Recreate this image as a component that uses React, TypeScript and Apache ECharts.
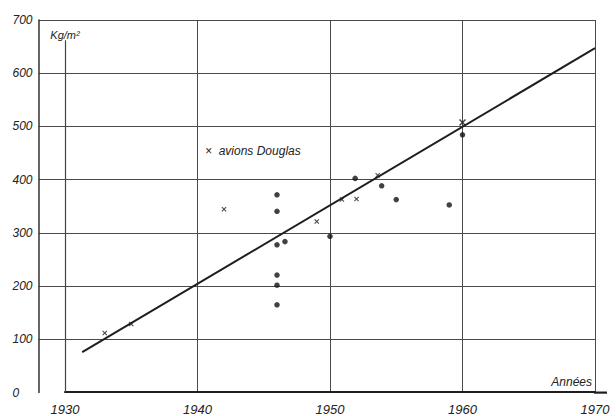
import React, { useEffect, useRef } from "react";
import * as echarts from "echarts";

// Douglas aircraft (crosses)
const douglasYears = [1933, 1935, 1942, 1949, 1950.9, 1952, 1953.6, 1960];
const douglasValues = [111, 128, 344, 321, 362, 363, 408, 507];
// Other aircraft (dots)
const otherYears = [1946, 1946, 1946, 1946.6, 1950, 1946, 1946, 1946, 1951.9, 1953.9, 1955, 1959, 1960];
const otherValues = [371, 340, 277, 283, 293, 220, 201, 164, 402, 388, 362, 352, 484];
// Trend line
const trendYears = [1931.3, 1970];
const trendValues = [75, 647];
// Axis ticks
const yearTicks = [1930, 1940, 1950, 1960, 1970];
const valueTicks = [0, 100, 200, 300, 400, 500, 600, 700];

const FONT = "'Liberation Sans', 'DejaVu Sans', sans-serif";
const INK = "#1e1e1e";
const GRID = "#4a4a4a";

const crossPath =
  "path://M0,1.5L1.5,0L5,3.5L8.5,0L10,1.5L6.5,5L10,8.5L8.5,10L5,6.5L1.5,10L0,8.5L3.5,5Z";

export default function App() {
  const ref = useRef<HTMLDivElement>(null);

  useEffect(() => {
    if (!ref.current) return;
    const chart = echarts.init(ref.current, null, { renderer: "svg" });
    const top = 20;
    const bottom = 23.4;
    const option: any = {
      animation: false,
      backgroundColor: "#ffffff",
      grid: [
        { left: 38.5, right: 21, top, bottom },
        { left: 65, right: 21, top, bottom },
      ],
      xAxis: [
        { gridIndex: 0, type: "value", min: 0, max: 1, show: false },
        {
          gridIndex: 1,
          type: "value",
          min: yearTicks[0],
          max: yearTicks[yearTicks.length - 1],
          interval: 10,
          axisLine: { show: true, lineStyle: { color: INK, width: 2.2 } },
          axisTick: { show: false },
          axisLabel: {
            margin: 11,
            color: "#222",
            fontFamily: FONT,
            fontStyle: "italic",
            fontSize: 13,
            formatter: (v: number) => (yearTicks.includes(v) ? String(v) : ""),
          },
          splitLine: {
            show: true,
            showMinLine: false,
            lineStyle: { color: GRID, width: 1 },
          },
        },
      ],
      yAxis: [
        {
          gridIndex: 0,
          type: "value",
          min: valueTicks[0],
          max: valueTicks[valueTicks.length - 1],
          interval: 100,
          axisLine: { show: true, lineStyle: { color: "#333", width: 1.5 } },
          axisTick: { show: false },
          axisLabel: {
            align: "left",
            margin: 26,
            padding: [0, 0, 8, 0],
            color: "#222",
            fontFamily: FONT,
            fontStyle: "italic",
            fontSize: 12,
          },
          splitLine: {
            show: true,
            showMinLine: false,
            lineStyle: { color: GRID, width: 1 },
          },
        },
        {
          gridIndex: 1,
          type: "value",
          min: valueTicks[0],
          max: valueTicks[valueTicks.length - 1],
          interval: 100,
          axisLine: { show: false },
          axisTick: { show: false },
          axisLabel: { show: false },
          splitLine: { show: false },
          name: "Kg/m²",
          nameLocation: "end",
          nameGap: -20,
          nameTextStyle: {
            align: "center",
            verticalAlign: "bottom",
            color: "#222",
            fontFamily: FONT,
            fontStyle: "italic",
            fontSize: 11,
          },
        },
      ],
      series: [
        {
          type: "line",
          xAxisIndex: 1,
          yAxisIndex: 1,
          data: trendYears.map((y, i) => [y, trendValues[i]]),
          showSymbol: false,
          symbol: "none",
          lineStyle: { color: INK, width: 2 },
          silent: true,
          markLine: {
            silent: true,
            symbol: "none",
            label: { show: false },
            lineStyle: { color: "#444", width: 1.2, type: "solid" },
            data: [[{ coord: [yearTicks[0], 0] }, { coord: [yearTicks[0], 662] }]],
          },
        },
        {
          type: "scatter",
          xAxisIndex: 1,
          yAxisIndex: 1,
          data: otherYears.map((y, i) => [y, otherValues[i]]),
          symbol: "circle",
          symbolSize: 5.5,
          itemStyle: { color: "#111" },
        },
        {
          type: "scatter",
          xAxisIndex: 1,
          yAxisIndex: 1,
          data: douglasYears.map((y, i) => [y, douglasValues[i]]),
          symbol: crossPath,
          symbolSize: (v: number[]) => (v[0] === 1960 ? 7 : 5),
          itemStyle: { color: "#1a1a1a" },
        },
      ],
      graphic: [
        {
          type: "line",
          shape: { x1: 594, y1: 392.6, x2: 607, y2: 392.6 },
          style: { stroke: INK, lineWidth: 2.2 },
        },
        {
          type: "text",
          x: 592,
          y: 382,
          style: {
            text: "Années",
            align: "right",
            verticalAlign: "middle",
            fill: "#222",
            font: `italic 12px ${FONT}`,
          },
        },
        {
          type: "text",
          x: 205,
          y: 151,
          style: {
            text: "×  avions Douglas",
            align: "left",
            verticalAlign: "middle",
            fill: "#222",
            font: `italic 12px ${FONT}`,
          },
        },
      ],
    };
    chart.setOption(option);
    return () => chart.dispose();
  }, []);

  return (
    <div
      ref={ref}
      style={{ position: "fixed", left: 0, top: 0, width: 616, height: 416 }}
    />
  );
}
